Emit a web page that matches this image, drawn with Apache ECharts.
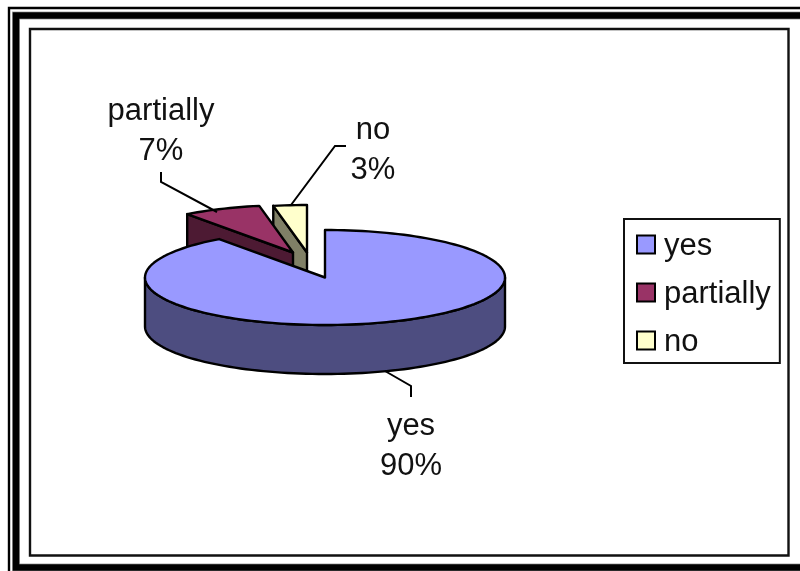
<!DOCTYPE html>
<html>
<head>
<meta charset="utf-8">
<style>html,body{margin:0;padding:0;background:#fff}#chart{width:800px;height:571px}</style>
<script src="https://cdn.jsdelivr.net/npm/echarts@6/dist/echarts.min.js"></script>
</head>
<body>
<div id="chart"></div>
<script>
// Survey answers, in percent
const categories = ['yes', 'partially', 'no'];
const shares = [90, 7, 3];

// Top face and shaded side colour of each slice
const topColors = ['#9999FF', '#993366', '#FFFFCC'];
const sideColors = ['#4D4D80', '#4D1A33', '#808066'];

// Tilted disc geometry, in pixels
const disc = { cx: 325, cy: 277.5, rx: 180, ry: 47.5, depth: 49 };
// How far each slice is pulled out of the disc
const pullX = [0, -32, -18];
const pullY = [0, -25, -25];
// Label centres and their leader lines
const labelX = [411, 161, 373];
const labelY = [446, 131, 150];
const leaders = [
  [[385, 371], [411, 386], [411, 397]],
  [[161, 172], [161, 182], [217, 212]],
  [[346, 146], [335, 146], [291, 205]]
];

const FONT = '"Liberation Sans", Arial, sans-serif';
const total = shares.reduce((a, b) => a + b, 0);

function rimPoint(deg, ox, oy, drop) {
  const r = deg * Math.PI / 180;
  return [disc.cx + ox + disc.rx * Math.sin(r), disc.cy + oy - disc.ry * Math.cos(r) + drop];
}

function arc(from, to, ox, oy, drop) {
  const pts = [];
  const steps = Math.max(2, Math.ceil(Math.abs(to - from) / 2));
  for (let i = 0; i <= steps; i++) pts.push(rimPoint(from + (to - from) * i / steps, ox, oy, drop));
  return pts;
}

function renderSlice(index) {
  const start = shares.slice(0, index).reduce((a, b) => a + b, 0) / total * 360;
  const end = start + shares[index] / total * 360;
  const ox = pullX[index], oy = pullY[index];
  const apex = [disc.cx + ox, disc.cy + oy];
  const outline = { stroke: '#000', lineWidth: 2.4, lineJoin: 'round' };
  const kids = [];
  const sideStyle = Object.assign({ fill: sideColors[index] }, outline);

  // Cut face on the counter-clockwise side of the wedge
  if (start > 180) {
    const rim = rimPoint(start, ox, oy, 0);
    const rimLow = rimPoint(start, ox, oy, disc.depth);
    kids.push({ type: 'polygon', shape: { points: [apex, rim, rimLow, [apex[0], apex[1] + disc.depth]] }, style: sideStyle });
  }
  // Outer wall on the half that faces the viewer
  const wallFrom = Math.max(start, 90), wallTo = Math.min(end, 270);
  if (wallTo > wallFrom) {
    const wall = arc(wallFrom, wallTo, ox, oy, 0).concat(arc(wallTo, wallFrom, ox, oy, disc.depth));
    kids.push({ type: 'polygon', shape: { points: wall }, style: sideStyle });
  }
  // Top face
  kids.push({
    type: 'polygon',
    shape: { points: [apex].concat(arc(start, end, ox, oy, 0)) },
    style: Object.assign({ fill: topColors[index] }, outline)
  });
  // Leader line and label
  kids.push({
    type: 'polyline',
    shape: { points: leaders[index] },
    style: { fill: 'none', stroke: '#000', lineWidth: 2 }
  });
  kids.push({
    type: 'text',
    style: {
      x: labelX[index], y: labelY[index],
      text: categories[index] + '\n' + shares[index] + '%',
      fill: '#111', font: '31px ' + FONT, lineHeight: 40,
      align: 'center', verticalAlign: 'middle'
    }
  });
  return { type: 'group', children: kids };
}

// Slices stacked back to front: no, partially, yes
const sliceZ = [12, 11, 10];
const series = categories.map((name, i) => ({
  type: 'custom',
  name,
  coordinateSystem: 'none',
  z: sliceZ[i],
  silent: true,
  animation: false,
  itemStyle: { color: topColors[i], borderColor: '#000', borderWidth: 2 },
  data: [shares[i]],
  renderItem: () => renderSlice(i)
}));

// Decorative double border around the sheet, with a thin inner plot frame
const frame = [
  { x: 9, y: 8, w: 900, h: 900, lw: 2.4, c: '#000' },
  { x: 16, y: 15.5, w: 900, h: 552, lw: 8, c: '#aaa' },
  { x: 16, y: 15.5, w: 900, h: 552, lw: 6.6, c: '#000' },
  { x: 30, y: 29, w: 758.5, h: 526.5, lw: 2.4, c: '#111' }
].map(f => ({
  type: 'rect', z: 0, silent: true,
  shape: { x: f.x, y: f.y, width: f.w, height: f.h },
  style: { fill: 'none', stroke: f.c, lineWidth: f.lw }
}));

const chart = echarts.init(document.getElementById('chart'), null, { renderer: 'canvas' });
chart.setOption({
  animation: false,
  backgroundColor: '#fff',
  graphic: frame,
  legend: {
    data: categories,
    orient: 'vertical',
    left: 624,
    top: 219,
    padding: [12, 9, 5, 12],
    itemWidth: 18,
    itemHeight: 18,
    itemGap: 17,
    icon: 'rect',
    selectedMode: false,
    backgroundColor: '#fff',
    borderColor: '#111',
    borderWidth: 2,
    formatter: name => '{t|' + name + '}',
    textStyle: {
      fontFamily: FONT, fontSize: 31, color: '#111', padding: [0, 0, 0, 4],
      rich: { t: { fontFamily: FONT, fontSize: 31, color: '#111', padding: [4, 0, 0, 0] } }
    },
    z: 20
  },
  series
});
</script>
</body>
</html>
